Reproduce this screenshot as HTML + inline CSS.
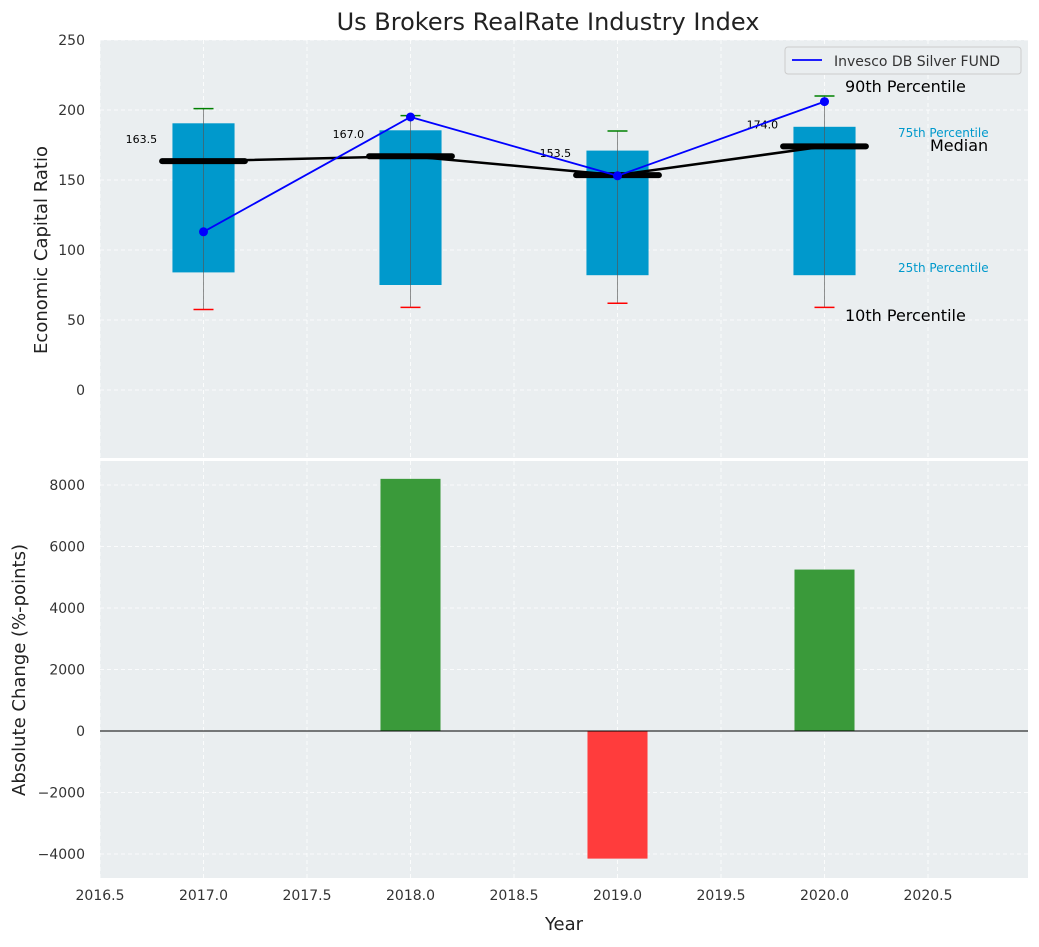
<!DOCTYPE html>
<html><head><meta charset="utf-8"><style>
body{margin:0;background:#fff;font-family:"Liberation Sans","DejaVu Sans",sans-serif}
svg text{font-family:"DejaVu Sans","Liberation Sans",sans-serif}
</style></head><body>
<svg id="c" width="1039" height="942" xmlns="http://www.w3.org/2000/svg"></svg>
<script>
const years=[2017,2018,2019,2020];
const q10=[57.5,59,62,59];
const q25=[84,75,82,82];
const q50=[163.5,167,153.5,174];
const q75=[190.5,185.5,171,188];
const q90=[201,196,185,210];
const fund=[113,195,153,206];
const changes=[0,8200,-4150,5250];
const xTicks=[2016.5,2017,2017.5,2018,2018.5,2019,2019.5,2020,2020.5];
const yTicksTop=[0,50,100,150,200,250];
const yTicksBot=[-4000,-2000,0,2000,4000,6000,8000];

const svg=document.getElementById('c');const NS='http://www.w3.org/2000/svg';
function el(t,a,p){const e=document.createElementNS(NS,t);for(const k in a)e.setAttribute(k,a[k]);(p||svg).appendChild(e);return e;}
const X=v=>100+(v-2016.5)*207;
const YT=v=>390-v*1.4;
const YB=v=>731-v*0.03075;
const L=100,R=1028;
let e=el('rect',{x:L,y:40,width:R-L,height:418,fill:'#eaeef0'});

e=el('rect',{x:L,y:461,width:R-L,height:417,fill:'#eaeef0'});

xTicks.forEach(t=>{
 el('line',{x1:X(t),x2:X(t),y1:40,y2:458,stroke:'#fff','stroke-dasharray':'4,3','stroke-width':0.8});
 el('line',{x1:X(t),x2:X(t),y1:461,y2:878,stroke:'#fff','stroke-dasharray':'4,3','stroke-width':0.8});
 e=el('text',{x:X(t),y:900,'text-anchor':'middle','font-size':14,fill:'#333'});e.textContent=t.toFixed(1);
 
});
yTicksTop.forEach(t=>{
 el('line',{x1:L,x2:R,y1:YT(t),y2:YT(t),stroke:'#fff','stroke-dasharray':'4,3','stroke-width':0.8});
 e=el('text',{x:85,y:YT(t)+5,'text-anchor':'end','font-size':14,fill:'#333'});e.textContent=t;
 
});
yTicksBot.forEach(t=>{
 el('line',{x1:L,x2:R,y1:YB(t),y2:YB(t),stroke:'#fff','stroke-dasharray':'4,3','stroke-width':0.8});
 e=el('text',{x:85,y:YB(t)+5,'text-anchor':'end','font-size':14,fill:'#333'});e.textContent=(t<0?'\u2212'+(-t):t);
 
});
years.forEach((y,i)=>{
 const cx=X(y),hw=0.15*207;
 e=el('rect',{x:cx-hw,y:YT(q75[i]),width:2*hw,height:YT(q25[i])-YT(q75[i]),fill:'#0099cc'});
 
 el('line',{x1:cx,x2:cx,y1:YT(q90[i]),y2:YT(q10[i]),stroke:'#555','stroke-width':0.8,opacity:0.8});
 el('line',{x1:cx-10,x2:cx+10,y1:YT(q90[i]),y2:YT(q90[i]),stroke:'green','stroke-width':1.5});
 el('line',{x1:cx-10,x2:cx+10,y1:YT(q10[i]),y2:YT(q10[i]),stroke:'red','stroke-width':1.5});
 e=el('line',{x1:X(y-0.2),x2:X(y+0.2),y1:YT(q50[i]),y2:YT(q50[i]),stroke:'#000','stroke-width':6,'stroke-linecap':'round'});
 
 e=el('text',{x:X(y-0.3),y:YT(q50[i])-18,'text-anchor':'middle','font-size':11,fill:'#000'});e.textContent=q50[i].toFixed(1);
 
});
e=el('polyline',{points:years.map((y,i)=>X(y)+','+YT(q50[i])).join(' '),fill:'none',stroke:'#000','stroke-width':2.5});

e=el('polyline',{points:years.map((y,i)=>X(y)+','+YT(fund[i])).join(' '),fill:'none',stroke:'blue','stroke-width':1.8});

years.forEach((y,i)=>{e=el('circle',{cx:X(y),cy:YT(fund[i]),r:4.5,fill:'blue'});
 });
[['90th Percentile',845,92,16,'#000'],['75th Percentile',898,137,12,'#0099cc'],['Median',930,151,16,'#000'],['25th Percentile',898,272,12,'#0099cc'],['10th Percentile',845,321,16,'#000']].forEach(a=>{
 e=el('text',{x:a[1],y:a[2],'font-size':a[3],fill:a[4]});e.textContent=a[0];
 
});
const lg=el('g',{});
el('rect',{x:785,y:47,width:236,height:27,fill:'#eaeef0',stroke:'#ccc',rx:3},lg);
el('line',{x1:792,x2:822,y1:60,y2:60,stroke:'blue','stroke-width':1.8},lg);
e=el('text',{x:834,y:66,'font-size':14,fill:'#333'},lg);e.textContent='Invesco DB Silver FUND';
years.forEach((y,i)=>{const v=changes[i];if(!v)return;
 e=el('rect',{x:X(y-0.145),y:Math.min(YB(v),YB(0)),width:0.29*207,height:Math.abs(YB(v)-YB(0)),fill:v>0?'#3a9a3a':'#ff3c3c'});
 
});
el('line',{x1:L,x2:R,y1:YB(0),y2:YB(0),stroke:'#000','stroke-width':1});
e=el('text',{x:548,y:30,'text-anchor':'middle','font-size':24,fill:'#222'});e.textContent='Us Brokers RealRate Industry Index';

e=el('text',{x:47,y:250,'text-anchor':'middle','font-size':18,fill:'#222',transform:'rotate(-90 47 250)'});e.textContent='Economic Capital Ratio';

e=el('text',{x:25,y:670,'text-anchor':'middle','font-size':18,fill:'#222',transform:'rotate(-90 25 670)'});e.textContent='Absolute Change (%-points)';

e=el('text',{x:564,y:930,'text-anchor':'middle','font-size':18,fill:'#222'});e.textContent='Year';

</script>
</body></html>
